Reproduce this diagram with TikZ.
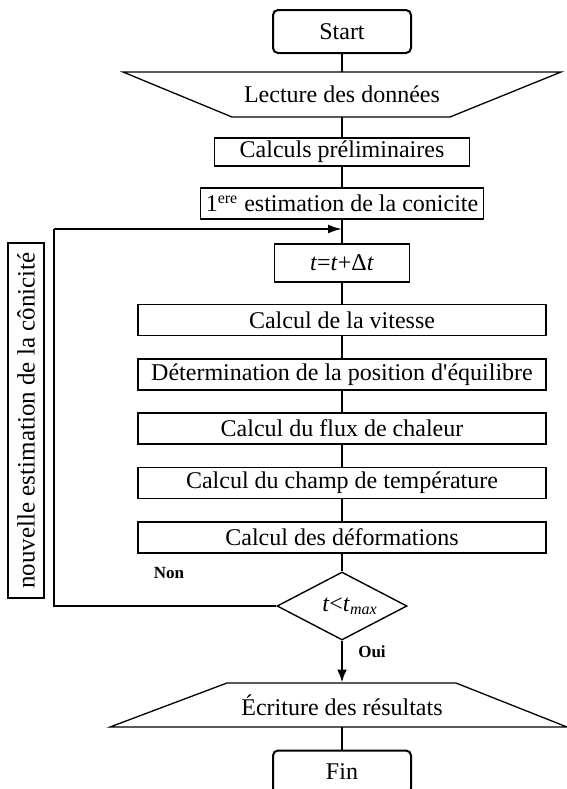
\documentclass[tikz,border=0pt]{standalone}
\usepackage{fontspec}
\setmainfont{Liberation Serif}
\usetikzlibrary{shapes.geometric,arrows.meta}
\tikzset{
 every node/.style={font=\fontsize{12}{14}\selectfont, inner sep=0pt},
 procbox/.style={draw, line width=0.65pt, rectangle, inner sep=0pt},
 bigbox/.style={procbox, minimum width=204pt, minimum height=15.5pt},
 termbox/.style={draw, line width=1pt, rounded corners=2.5pt, inner sep=0pt, minimum width=69pt, minimum height=21.5pt},
 iobox/.style={inner sep=0pt, minimum height=22pt, minimum width=110pt},
 iofrm/.style={line width=0.65pt},
 decbox/.style={draw, diamond, aspect=1.9, line width=0.7pt, inner sep=0pt, minimum width=65pt, minimum height=34pt},
 link/.style={line width=0.65pt},
 fbarrow/.style={line width=1pt, -{Latex[length=7pt,width=4.5pt]}},
 yesarrow/.style={line width=1.4pt, -{Latex[length=6.5pt,width=5pt]}},
 lbl/.style={font=\fontsize{8.5}{10}\selectfont\bfseries}
}
\begin{document}
\begin{tikzpicture}[x=0.5pt,y=-0.5pt]
\useasboundingbox (0,0) rectangle (567,789);
% terminals and I/O
\node[termbox] (start) at (342,31.5) {Start};
\node[iobox] (lec) at (342,94.5) {Lecture des données};
\draw[iofrm] (123,72) -- (561,72) -- (450,117) -- (232,117) -- cycle;
\node[procbox, minimum width=127.5pt, minimum height=14pt] (calc) at (342,152) {Calculs préliminaires};
\node[procbox, minimum width=141.5pt, minimum height=15.5pt] (est) at (342,203.5) {1\textsuperscript{ere} estimation de la conicite};
\node[procbox, minimum width=67.5pt, minimum height=19pt] (tt) at (342,263) {\textit{t}=\textit{t}+Δ\textit{t}};
\node[bigbox] (v1) at (342,320) {Calcul de la vitesse};
\node[bigbox] (v2) at (342,374.5) {Détermination de la position d\textquotesingle équilibre};
\node[bigbox] (v3) at (342,428.5) {Calcul du flux de chaleur};
\node[bigbox] (v4) at (342,483) {Calcul du champ de température};
\node[bigbox] (v5) at (342,537.5) {Calcul des déformations};
\node[decbox] (dec) at (342,606) {\hspace{8pt}\textit{t}<\textit{t}\textsubscript{\textit{max}}};
\node[iobox] (ecr) at (342,705) {Écriture des résultats};
\draw[iofrm] (227,683) -- (456,683) -- (567,727) -- (110,727) -- cycle;
\node[termbox] (fin) at (342,772) {Fin};
\node[procbox, rotate=90, minimum width=177.5pt, minimum height=18pt, font=\fontsize{12.5}{14}\selectfont] (nouv) at (26,420.5) {nouvelle estimation de la cônicité};
% labels
\node[lbl] (non) at (169,573) {Non};
\node[lbl] (oui) at (372,652) {Oui};
% connectors
\draw[link] (start) -- (lec);
\draw[link] (lec) -- (calc);
\draw[link] (calc) -- (est);
\draw[link] (est) -- (tt);
\draw[link] (tt) -- (v1);
\draw[link] (v1) -- (v2);
\draw[link] (v2) -- (v3);
\draw[link] (v3) -- (v4);
\draw[link] (v4) -- (v5);
\draw[link] (v5) -- (dec);
\draw[yesarrow] (dec.south) -- (ecr.north);
\draw[link] (ecr) -- (fin);
% loop back
\coordinate (lb) at (54,606);
\coordinate (lt) at (54,229);
\coordinate (lj) at (342,229);
\draw[link] (dec.west) -- (lb) -- (lt);
\draw[fbarrow] (lt) -- (lj);
\end{tikzpicture}
\end{document}
